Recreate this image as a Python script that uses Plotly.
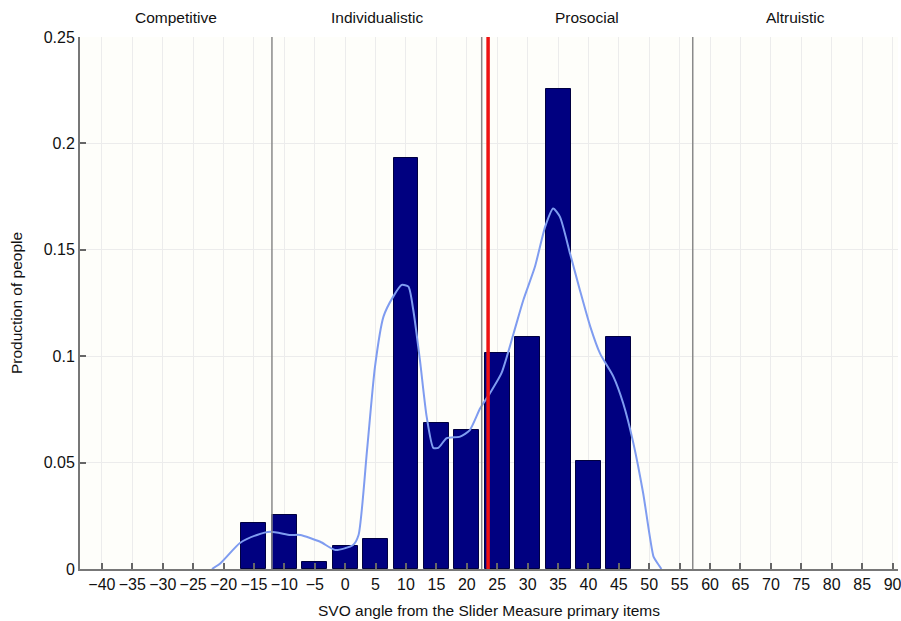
import plotly.graph_objects as go

# Histogram bars (bin centre, proportion)
bin_centers = [-15, -10, -5, 0, 5, 10, 15, 20, 25, 30, 35, 40, 45]
proportions = [0.0215, 0.0254, 0.0034, 0.0108, 0.0141, 0.193, 0.0688, 0.0653,
               0.1013, 0.1089, 0.2254, 0.0508, 0.1089]

# Smoothed density curve
curve_x = [-21.9, -20.5, -17.3, -14.5, -12.3, -9.0, -7.4, -4.1, -1.6, 1.3, 2.2,
           3.6, 4.9, 6.3, 7.9, 9.3, 10.4, 11.2, 12.3, 13.4, 14.5, 15.3, 16.7,
           18.9, 20.5, 22.2, 23.8, 25.7, 27.7, 29.3, 31.2, 32.9, 34.2, 35.3,
           37.0, 38.6, 40.3, 41.9, 44.1, 45.7, 47.4, 49.0, 50.7, 51.2, 52.0]
curve_y = [0.0, 0.0027, 0.0122, 0.0160, 0.0175, 0.0160, 0.0160, 0.0128, 0.0089,
           0.0113, 0.0160, 0.056, 0.095, 0.1186, 0.128, 0.1335, 0.1327, 0.1217,
           0.098, 0.0716, 0.0569, 0.0569, 0.0615, 0.0622, 0.0653, 0.0755,
           0.0826, 0.092, 0.1108, 0.1264, 0.142, 0.161, 0.1694, 0.1656, 0.148,
           0.131, 0.1139, 0.1013, 0.0904, 0.078, 0.059, 0.0356, 0.0058, 0.0034, 0.0]

boundaries = [-12.04, 22.45, 57.15]
mean_angle = 23.5
region_labels = ["Competitive", "Individualistic", "Prosocial", "Altruistic"]
region_centers = [-27.8, 5.2, 39.8, 74.0]
x_ticks = list(range(-40, 91, 5))
y_ticks = [0, 0.05, 0.1, 0.15, 0.2, 0.25]
y_tick_text = ["0", "0.05", "0.1", "0.15", "0.2", "0.25"]

FONT = "Liberation Sans, Arial, sans-serif"

fig = go.Figure()
fig.add_trace(go.Bar(
    x=bin_centers, y=proportions, width=4.1,
    marker=dict(color="#000080", line=dict(color="#000040", width=1)),
    showlegend=False,
))
fig.add_trace(go.Scatter(
    x=curve_x, y=curve_y, mode="lines",
    line=dict(color="#7f9cf0", width=2, shape="spline", smoothing=0.6),
    showlegend=False,
))

for b in boundaries:
    fig.add_shape(type="line", x0=b, x1=b, y0=0, y1=0.25, xref="x", yref="y",
                  line=dict(color="#8a8a8a", width=1.5), layer="above")
fig.add_shape(type="line", x0=mean_angle, x1=mean_angle, y0=0, y1=0.25,
              xref="x", yref="y", line=dict(color="#ee1111", width=3.5), layer="above")

for lbl, cx in zip(region_labels, region_centers):
    fig.add_annotation(x=cx, y=1.0, xref="x", yref="paper", yanchor="middle",
                       yshift=20, text=lbl, showarrow=False,
                       font=dict(family=FONT, size=15.5, color="#111"))

fig.update_layout(
    width=901, height=621,
    margin=dict(l=80, r=3, t=37, b=52),
    paper_bgcolor="white", plot_bgcolor="#fefefa",
    font=dict(family=FONT, size=16, color="#111"),
    bargap=0,
)
fig.update_xaxes(
    range=[-43.6, 90.9], tickmode="array", tickvals=x_ticks,
    ticks="inside", ticklen=6, tickcolor="#666", tickwidth=1.5,
    showgrid=True, gridcolor="#ececec", gridwidth=1,
    showline=True, linecolor="#777", linewidth=2, zeroline=False,
    automargin=False, ticklabeloverflow="allow",
    title=dict(text="SVO angle from the Slider Measure primary items",
               font=dict(size=15.5), standoff=13),
    tickfont=dict(size=16),
)
fig.update_yaxes(
    range=[0, 0.25], tickmode="array", tickvals=y_ticks, ticktext=y_tick_text,
    ticks="inside", ticklen=6, tickcolor="#666", tickwidth=1.5,
    showgrid=True, gridcolor="#ececec", gridwidth=1,
    showline=True, linecolor="#777", linewidth=2, zeroline=False,
    automargin=False,
    title=dict(text="Production of people", font=dict(size=15.5), standoff=17),
    tickfont=dict(size=16),
)

fig.write_html(
    "out.html",
    config={"displayModeBar": False},
    post_script="document.body.style.margin='0';document.body.style.overflow='hidden';",
)
